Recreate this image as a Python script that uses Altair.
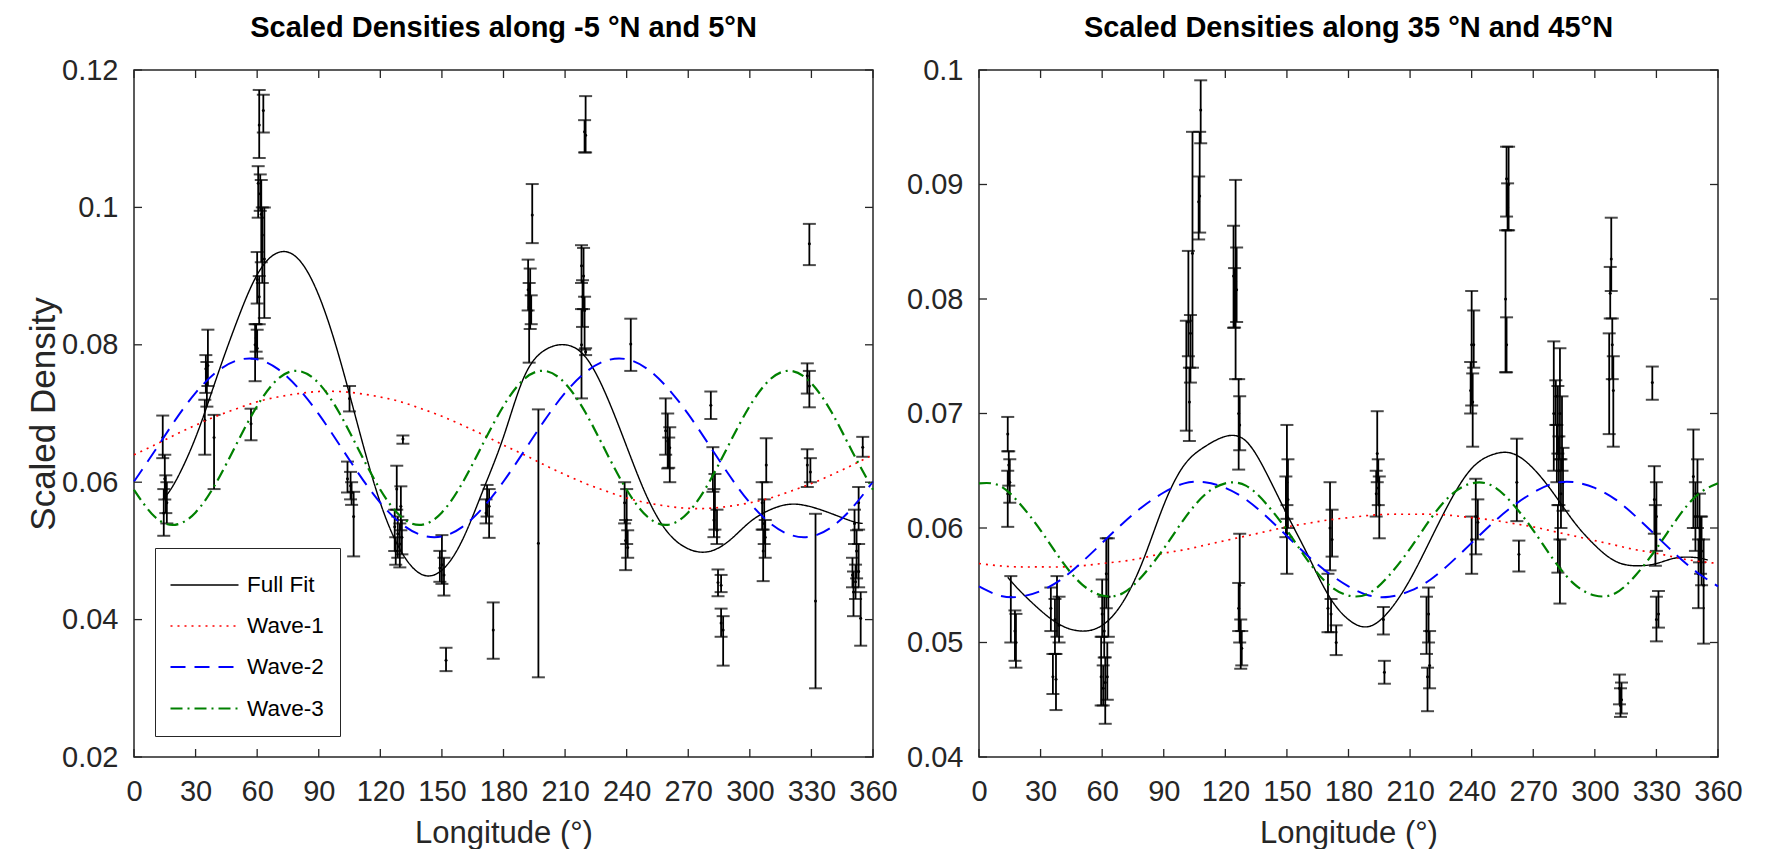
import altair as alt
import pandas as pd

FONT = "Liberation Sans, Arial, sans-serif"
AXC = "#262626"

W, H = 739, 687
TK = 8

SERIES = ["Full Fit", "Wave-1", "Wave-2", "Wave-3"]
SERIES_COLORS = ["#000000", "#ff0000", "#0000ff", "#008000"]
SERIES_DASH = [[1, 0], [2, 5], [15, 9], [12, 5, 2, 5]]
SERIES_WIDTH = [1.4, 2.2, 1.8, 1.8]

X_TICKS = [0, 30, 60, 90, 120, 150, 180, 210, 240, 270, 300, 330, 360]
L_Y_TICKS = [0.02, 0.04, 0.06, 0.08, 0.10, 0.12]
R_Y_TICKS = [0.04, 0.05, 0.06, 0.07, 0.08, 0.09, 0.10]

WAVE_LON = [0, 10, 20, 30, 40, 50, 60, 70, 80, 90, 100, 110, 120, 130, 140, 150, 160, 170, 180,
            190, 200, 210, 220, 230, 240, 250, 260, 270, 280, 290, 300, 310, 320, 330, 340, 350, 360]
FULL_LON = [14, 20, 30, 40, 50, 60, 70, 80, 90, 100, 110, 120, 130, 140, 150, 160, 170, 180,
            190, 200, 210, 220, 230, 240, 250, 260, 270, 280, 290, 300, 310, 320, 330, 340, 350, 355]

# ---------------- left panel (-5N .. 5N) ----------------
L_WAVE1 = [0.0640, 0.0654, 0.0669, 0.0683, 0.0696, 0.0707, 0.0717, 0.0724, 0.0729, 0.0732, 0.0732, 0.0729,
           0.0724, 0.0717, 0.0707, 0.0696, 0.0683, 0.0669, 0.0654, 0.0640, 0.0625, 0.0611, 0.0598, 0.0587,
           0.0577, 0.0570, 0.0565, 0.0562, 0.0562, 0.0565, 0.0570, 0.0577, 0.0587, 0.0598, 0.0611, 0.0625, 0.0640]
L_WAVE2 = [0.0601, 0.0645, 0.0690, 0.0730, 0.0760, 0.0777, 0.0779, 0.0765, 0.0737, 0.0699, 0.0655, 0.0610,
           0.0570, 0.0540, 0.0523, 0.0521, 0.0535, 0.0563, 0.0601, 0.0645, 0.0690, 0.0730, 0.0760, 0.0777,
           0.0779, 0.0765, 0.0737, 0.0699, 0.0655, 0.0610, 0.0570, 0.0540, 0.0523, 0.0521, 0.0535, 0.0563, 0.0601]
L_WAVE3 = [0.0589, 0.0550, 0.0538, 0.0556, 0.0599, 0.0656, 0.0711, 0.0750, 0.0762, 0.0744, 0.0701, 0.0644,
           0.0589, 0.0550, 0.0538, 0.0556, 0.0599, 0.0656, 0.0711, 0.0750, 0.0762, 0.0744, 0.0701, 0.0644,
           0.0589, 0.0550, 0.0538, 0.0556, 0.0599, 0.0656, 0.0711, 0.0750, 0.0762, 0.0744, 0.0701, 0.0644, 0.0589]
L_FULL = [0.0575, 0.0600, 0.0665, 0.0750, 0.0833, 0.0902, 0.0934, 0.0925, 0.0872, 0.0782, 0.0672, 0.0570,
          0.0500, 0.0466, 0.0472, 0.0516, 0.0588, 0.0666, 0.0753, 0.0792, 0.0800, 0.0782, 0.0727, 0.0652,
          0.0578, 0.0527, 0.0503, 0.0499, 0.0515, 0.0542, 0.0560, 0.0568, 0.0564, 0.0554, 0.0543, 0.0540]

L_EB_LON = [14, 15, 15.5, 14.5, 16,
            35, 36, 35.5, 34.5, 39,
            61, 63, 60.5, 61.5, 62, 62.5, 63.5, 60, 61, 59.5, 60, 59, 57,
            105, 104, 105.5, 106, 107,
            131, 128, 130, 127, 128.5, 129.5, 127.5, 130.5,
            150, 151, 149, 152,
            172, 173, 171.5, 175,
            194, 192, 193, 192.5, 193.5, 197,
            220, 219.5, 218, 219, 218.5, 219.5, 218, 220,
            242, 239, 240, 239.5, 240.5,
            259, 260, 261, 260.5,
            281, 282, 283, 282.5, 284, 284.5, 286, 286, 287,
            308, 306, 307, 306.5, 307.5,
            329, 328, 329, 328, 329.5, 332,
            355, 353, 351, 352, 350, 351.5, 353, 354, 350.5]
L_EB_VAL = [0.0665, 0.0605, 0.0580, 0.0555, 0.0570,
            0.0765, 0.0770, 0.0745, 0.0690, 0.0665,
            0.1120, 0.1141, 0.1035, 0.1020, 0.0990, 0.0960, 0.0925, 0.0895, 0.0870, 0.0810, 0.0795, 0.0800, 0.0685,
            0.0722, 0.0605, 0.0595, 0.0585, 0.0550,
            0.0663, 0.0590, 0.0565, 0.0535, 0.0525, 0.0510, 0.0500, 0.0520,
            0.0480, 0.0465, 0.0475, 0.0341,
            0.0575, 0.0565, 0.0555, 0.0385,
            0.0989, 0.0880, 0.0865, 0.0855, 0.0850, 0.0511,
            0.1105, 0.1110, 0.0915, 0.0900, 0.0870, 0.0850, 0.0800, 0.0790,
            0.0801, 0.0570, 0.0545, 0.0515, 0.0505,
            0.0675, 0.0660, 0.0650, 0.0640,
            0.0712, 0.0610, 0.0560, 0.0545, 0.0530, 0.0454, 0.0450, 0.0395, 0.0385,
            0.0625, 0.0570, 0.0540, 0.0500, 0.0520,
            0.0947, 0.0755, 0.0740, 0.0625, 0.0615, 0.0427,
            0.0651, 0.0570, 0.0540, 0.0500, 0.0465, 0.0455, 0.0470, 0.0402, 0.0440]
L_EB_LO = [0.0635, 0.0575, 0.0555, 0.0522, 0.0540,
           0.0730, 0.0740, 0.0710, 0.0640, 0.0590,
           0.1072, 0.1109, 0.0985, 0.0995, 0.0920, 0.0890, 0.0839, 0.0860, 0.0830, 0.0790, 0.0780, 0.0747, 0.0661,
           0.0703, 0.0585, 0.0575, 0.0567, 0.0492,
           0.0656, 0.0560, 0.0530, 0.0500, 0.0490, 0.0476, 0.0480, 0.0495,
           0.0452, 0.0435, 0.0455, 0.0325,
           0.0550, 0.0519, 0.0540, 0.0343,
           0.0948, 0.0850, 0.0823, 0.0774, 0.0830, 0.0316,
           0.1080, 0.1080, 0.0890, 0.0852, 0.0826, 0.0793, 0.0722, 0.0785,
           0.0762, 0.0540, 0.0510, 0.0472, 0.0490,
           0.0640, 0.0620, 0.0600, 0.0621,
           0.0692, 0.0586, 0.0531, 0.0520, 0.0510, 0.0434, 0.0440, 0.0375, 0.0333,
           0.0600, 0.0531, 0.0510, 0.0456, 0.0490,
           0.0916, 0.0729, 0.0709, 0.0593, 0.0600, 0.0300,
           0.0637, 0.0531, 0.0510, 0.0460, 0.0447, 0.0430, 0.0447, 0.0362, 0.0405]
L_EB_HI = [0.0697, 0.0640, 0.0610, 0.0590, 0.0600,
           0.0785, 0.0822, 0.0775, 0.0720, 0.0698,
           0.1171, 0.1164, 0.1060, 0.1048, 0.1040, 0.1000, 0.1000, 0.0935, 0.0900, 0.0830, 0.0822, 0.0830, 0.0707,
           0.0740, 0.0630, 0.0615, 0.0600, 0.0586,
           0.0668, 0.0624, 0.0594, 0.0560, 0.0550, 0.0540, 0.0520, 0.0545,
           0.0523, 0.0490, 0.0500, 0.0359,
           0.0596, 0.0590, 0.0575, 0.0425,
           0.1034, 0.0924, 0.0911, 0.0890, 0.0872, 0.0706,
           0.1162, 0.1127, 0.0945, 0.0941, 0.0894, 0.0870, 0.0852, 0.0795,
           0.0838, 0.0600, 0.0590, 0.0545, 0.0530,
           0.0722, 0.0700, 0.0680, 0.0665,
           0.0732, 0.0651, 0.0612, 0.0590, 0.0560, 0.0473, 0.0465, 0.0416, 0.0405,
           0.0664, 0.0600, 0.0575, 0.0531, 0.0545,
           0.0976, 0.0773, 0.0762, 0.0648, 0.0635, 0.0554,
           0.0666, 0.0593, 0.0560, 0.0530, 0.0490, 0.0480, 0.0510, 0.0440, 0.0470]

# ---------------- right panel (35N .. 45N) ----------------
R_WAVE1 = [0.0569, 0.0567, 0.0566, 0.0566, 0.0566, 0.0567, 0.0569, 0.0571, 0.0574, 0.0578, 0.0581, 0.0585,
           0.0589, 0.0593, 0.0597, 0.0601, 0.0604, 0.0607, 0.0609, 0.0611, 0.0612, 0.0612, 0.0612, 0.0611,
           0.0609, 0.0607, 0.0604, 0.0601, 0.0597, 0.0593, 0.0589, 0.0585, 0.0581, 0.0578, 0.0574, 0.0571, 0.0569]
R_WAVE2 = [0.0549, 0.0541, 0.0540, 0.0545, 0.0555, 0.0570, 0.0587, 0.0604, 0.0619, 0.0631, 0.0639, 0.0640,
           0.0635, 0.0625, 0.0610, 0.0593, 0.0576, 0.0561, 0.0549, 0.0541, 0.0540, 0.0545, 0.0555, 0.0570,
           0.0587, 0.0604, 0.0619, 0.0631, 0.0639, 0.0640, 0.0635, 0.0625, 0.0610, 0.0593, 0.0576, 0.0561, 0.0549]
R_WAVE3 = [0.0639, 0.0637, 0.0621, 0.0598, 0.0572, 0.0551, 0.0541, 0.0543, 0.0559, 0.0582, 0.0608, 0.0629,
           0.0639, 0.0637, 0.0621, 0.0598, 0.0572, 0.0551, 0.0541, 0.0543, 0.0559, 0.0582, 0.0608, 0.0629,
           0.0639, 0.0637, 0.0621, 0.0598, 0.0572, 0.0551, 0.0541, 0.0543, 0.0559, 0.0582, 0.0608, 0.0629, 0.0639]
R_FULL = [0.0557, 0.0545, 0.0528, 0.0515, 0.0510, 0.0515, 0.0535, 0.0572, 0.0620, 0.0655, 0.0671, 0.0680,
          0.0676, 0.0648, 0.0612, 0.0577, 0.0542, 0.0520, 0.0514, 0.0528, 0.0555, 0.0590, 0.0625, 0.0652,
          0.0664, 0.0665, 0.0652, 0.0630, 0.0605, 0.0585, 0.0571, 0.0567, 0.0569, 0.0574, 0.0574, 0.0572]

R_EB_LON = [14, 14.5, 15, 14, 15.5, 17.5, 18,
            38, 35, 37, 36, 37.5, 39,
            62, 63, 60, 61, 59.5, 61.5, 60.5, 62.5,
            108, 107, 107.5, 104, 102, 103, 101, 102.5,
            125, 124, 125.5, 124.5, 126.5, 127, 127, 126.5, 127.5, 128,
            150, 150.5, 149.5, 150,
            171, 172, 170, 171.5, 174,
            194, 194.5, 193.5, 195, 197, 197.5,
            219, 218, 219.5, 218.5,
            240, 241, 239.5, 240.5, 242, 243, 240,
            257, 258, 257.5, 256.5, 257, 262, 263,
            280, 283, 281, 282, 284, 281.5, 282.5, 284.5, 283.5, 282, 283,
            308, 307.5, 308.5, 307, 309, 312, 313, 312.5,
            328, 329, 330, 329.5, 330, 331,
            348, 350, 349, 351, 352, 350.5, 353, 351.5]
R_EB_VAL = [0.0682, 0.0655, 0.0640, 0.0630, 0.0540, 0.0510, 0.0500,
            0.0540, 0.0530, 0.0520, 0.0470, 0.0468, 0.0515,
            0.0560, 0.0540, 0.0525, 0.0510, 0.0470, 0.0465, 0.0460, 0.0470,
            0.0965, 0.0885, 0.0890, 0.0840, 0.0780, 0.0770, 0.0740, 0.0710,
            0.0815, 0.0820, 0.0808, 0.0790, 0.0700, 0.0690, 0.0550, 0.0530, 0.0500, 0.0495,
            0.0640, 0.0625, 0.0615, 0.0595,
            0.0600, 0.0590, 0.0530, 0.0525, 0.0500,
            0.0665, 0.0635, 0.0630, 0.0620, 0.0520, 0.0474,
            0.0525, 0.0510, 0.0480, 0.0470,
            0.0760, 0.0760, 0.0720, 0.0710, 0.0610, 0.0605, 0.0590,
            0.0905, 0.0900, 0.0880, 0.0800, 0.0760, 0.0640, 0.0577,
            0.0700, 0.0700, 0.0715, 0.0690, 0.0680, 0.0665, 0.0650, 0.0640, 0.0630, 0.0590, 0.0565,
            0.0835, 0.0805, 0.0760, 0.0730, 0.0720, 0.0460, 0.0450, 0.0445,
            0.0727, 0.0625, 0.0610, 0.0595, 0.0520, 0.0525,
            0.0645, 0.0630, 0.0610, 0.0600, 0.0580, 0.0560, 0.0550, 0.0590]
R_EB_LO = [0.0667, 0.0637, 0.0622, 0.0601, 0.0500, 0.0484, 0.0478,
           0.0505, 0.0510, 0.0490, 0.0455, 0.0441, 0.0500,
           0.0530, 0.0505, 0.0505, 0.0487, 0.0445, 0.0429, 0.0445, 0.0450,
           0.0936, 0.0852, 0.0858, 0.0740, 0.0750, 0.0727, 0.0685, 0.0676,
           0.0730, 0.0775, 0.0780, 0.0775, 0.0651, 0.0668, 0.0500, 0.0510, 0.0477, 0.0480,
           0.0608, 0.0600, 0.0592, 0.0560,
           0.0563, 0.0575, 0.0509, 0.0509, 0.0489,
           0.0640, 0.0620, 0.0610, 0.0591, 0.0507, 0.0464,
           0.0500, 0.0490, 0.0460, 0.0440,
           0.0707, 0.0740, 0.0700, 0.0671, 0.0577, 0.0590, 0.0560,
           0.0872, 0.0860, 0.0860, 0.0736, 0.0736, 0.0606, 0.0562,
           0.0650, 0.0660, 0.0690, 0.0665, 0.0650, 0.0640, 0.0620, 0.0615, 0.0600, 0.0561, 0.0534,
           0.0807, 0.0783, 0.0730, 0.0682, 0.0671, 0.0446, 0.0438, 0.0435,
           0.0712, 0.0595, 0.0580, 0.0567, 0.0501, 0.0513,
           0.0600, 0.0600, 0.0580, 0.0570, 0.0550, 0.0530, 0.0499, 0.0560]
R_EB_HI = [0.0697, 0.0667, 0.0660, 0.0650, 0.0558, 0.0528, 0.0525,
           0.0558, 0.0548, 0.0538, 0.0490, 0.0490, 0.0540,
           0.0591, 0.0591, 0.0555, 0.0540, 0.0505, 0.0487, 0.0480, 0.0500,
           0.0991, 0.0907, 0.0946, 0.0946, 0.0842, 0.0786, 0.0781, 0.0740,
           0.0904, 0.0864, 0.0845, 0.0827, 0.0730, 0.0715, 0.0595, 0.0552, 0.0520, 0.0510,
           0.0690, 0.0660, 0.0645, 0.0620,
           0.0640, 0.0616, 0.0560, 0.0538, 0.0515,
           0.0702, 0.0660, 0.0650, 0.0645, 0.0531, 0.0484,
           0.0548, 0.0540, 0.0510, 0.0478,
           0.0807, 0.0790, 0.0745, 0.0735, 0.0643, 0.0625, 0.0610,
           0.0933, 0.0933, 0.0901, 0.0860, 0.0784, 0.0678, 0.0589,
           0.0763, 0.0757, 0.0729, 0.0724, 0.0715, 0.0690, 0.0680, 0.0670, 0.0660, 0.0620, 0.0590,
           0.0871, 0.0828, 0.0783, 0.0770, 0.0750, 0.0472, 0.0465, 0.0460,
           0.0741, 0.0654, 0.0640, 0.0620, 0.0540, 0.0545,
           0.0686, 0.0660, 0.0640, 0.0630, 0.0610, 0.0590, 0.0590, 0.0610]


def curves_frame(w1, w2, w3, full):
    rows = []
    for lo, v in zip(FULL_LON, full):
        rows.append({"lon": lo, "val": v, "series": "Full Fit"})
    for name, arr in (("Wave-1", w1), ("Wave-2", w2), ("Wave-3", w3)):
        for lo, v in zip(WAVE_LON, arr):
            rows.append({"lon": lo, "val": v, "series": name})
    return pd.DataFrame(rows)


def panel(title, eb_lon, eb_val, eb_lo, eb_hi, w1, w2, w3, full, ydom, yticks, ytitle, with_legend):
    eb = pd.DataFrame({"lon": eb_lon, "val": eb_val, "lo": eb_lo, "hi": eb_hi})
    cv = curves_frame(w1, w2, w3, full)
    xt = pd.DataFrame({"t": X_TICKS})
    yt = pd.DataFrame({"t": yticks})

    xscale = alt.Scale(domain=[0, 360], nice=False, zero=False)
    yscale = alt.Scale(domain=ydom, nice=False, zero=False)
    xaxis = alt.Axis(values=X_TICKS, format="d", title="Longitude (°)", domain=False, ticks=False,
                     tickSize=0, grid=False, labelFont=FONT, labelFontSize=29, labelColor=AXC,
                     labelPadding=20, labelFlush=False, labelOverlap=False,
                     titleFont=FONT, titleFontSize=31, titleFontWeight="normal", titleColor=AXC,
                     titlePadding=12)
    yaxis = alt.Axis(values=yticks, format=".2~f", title=ytitle, domain=False, ticks=False, tickSize=0,
                     grid=False, labelFont=FONT, labelFontSize=29, labelColor=AXC, labelPadding=16,
                     labelFlush=False, labelOverlap=False,
                     titleFont=FONT, titleFontSize=35, titleFontWeight="normal", titleColor=AXC,
                     titlePadding=0)

    def X(f):
        return alt.X(f + ":Q", scale=xscale, axis=xaxis)

    def Y(f):
        return alt.Y(f + ":Q", scale=yscale, axis=yaxis)

    if with_legend:
        leg = alt.Legend(orient="none", legendX=21, legendY=478, title=None,
                         symbolType="M-1.7,0L1.7,0", symbolSize=1600, symbolStrokeWidth=1.8,
                         symbolOffset=12, labelOffset=21, labelFont=FONT, labelFontSize=22.5,
                         labelColor="#000000", padding=16, rowPadding=8, strokeColor=AXC,
                         fillColor="#ffffff", labelLimit=300)
    else:
        leg = None

    color = alt.Color("series:N", scale=alt.Scale(domain=SERIES, range=SERIES_COLORS), legend=leg)
    dash = alt.StrokeDash("series:N", scale=alt.Scale(domain=SERIES, range=SERIES_DASH), legend=leg)
    sw = alt.StrokeWidth("series:N", scale=alt.Scale(domain=SERIES, range=SERIES_WIDTH), legend=None)

    bars = alt.Chart(eb).mark_rule(color="#000000", strokeWidth=1.8).encode(
        x=X("lon"), y=Y("lo"), y2="hi:Q")
    cap_lo = alt.Chart(eb).mark_tick(color="#000000", orient="horizontal", size=13, thickness=2).encode(
        x=X("lon"), y=Y("lo"))
    cap_hi = alt.Chart(eb).mark_tick(color="#000000", orient="horizontal", size=13, thickness=2).encode(
        x=X("lon"), y=Y("hi"))
    pts = alt.Chart(eb).mark_circle(color="#000000", size=9, opacity=1).encode(x=X("lon"), y=Y("val"))
    lines = alt.Chart(cv).mark_line(interpolate="natural").encode(
        x=X("lon"), y=Y("val"), color=color, strokeDash=dash, strokeWidth=sw,
        order=alt.Order("lon:Q"))

    tk_top = alt.Chart(xt).mark_rule(color=AXC, strokeWidth=1.3).encode(
        x=X("t"), y=alt.value(0), y2=alt.value(TK))
    tk_bot = alt.Chart(xt).mark_rule(color=AXC, strokeWidth=1.3).encode(
        x=X("t"), y=alt.value(H - TK), y2=alt.value(H))
    tk_left = alt.Chart(yt).mark_rule(color=AXC, strokeWidth=1.3).encode(
        y=Y("t"), x=alt.value(0), x2=alt.value(TK))
    tk_right = alt.Chart(yt).mark_rule(color=AXC, strokeWidth=1.3).encode(
        y=Y("t"), x=alt.value(W - TK), x2=alt.value(W))

    return alt.layer(bars, cap_lo, cap_hi, pts, lines, tk_top, tk_bot, tk_left, tk_right).properties(
        width=W, height=H,
        title=alt.TitleParams(text=title, font=FONT, fontSize=29, fontWeight="bold", color="#000000",
                              anchor="middle", frame="group", baseline="alphabetic", offset=-10))


left = panel("Scaled Densities along -5 °N and 5°N", L_EB_LON, L_EB_VAL, L_EB_LO, L_EB_HI,
             L_WAVE1, L_WAVE2, L_WAVE3, L_FULL, [0.02, 0.12], L_Y_TICKS, "Scaled Density", True)
right = panel("Scaled Densities along 35 °N and 45°N", R_EB_LON, R_EB_VAL, R_EB_LO, R_EB_HI,
              R_WAVE1, R_WAVE2, R_WAVE3, R_FULL, [0.04, 0.10], R_Y_TICKS, None, False)

chart = alt.hconcat(left, right, spacing=106, bounds="flush").resolve_scale(
    x="independent", y="independent", color="independent", strokeDash="independent",
    strokeWidth="independent"
).resolve_legend(color="independent", strokeDash="independent").configure(
    padding={"left": 17, "top": 5, "right": 10, "bottom": 0}, background="#ffffff"
).configure_view(stroke=AXC, strokeWidth=1.5)

chart.save("out.html", embed_options={"renderer": "svg", "actions": False})
